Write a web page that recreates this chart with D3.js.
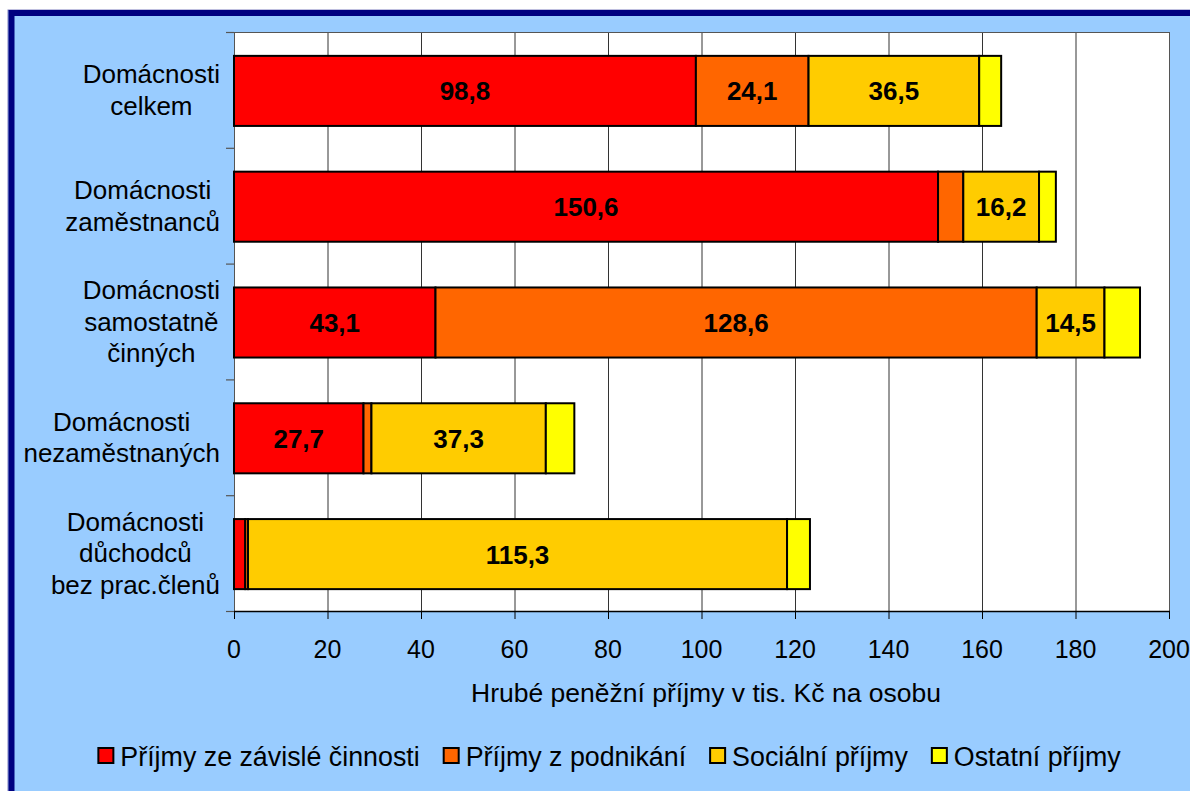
<!DOCTYPE html>
<html>
<head>
<meta charset="utf-8">
<script src="https://cdn.jsdelivr.net/npm/d3@7"></script>
<style>
html,body{margin:0;padding:0;background:#fff;}
svg{display:block;}
text{font-family:"Liberation Sans",Arial,sans-serif;}
</style>
</head>
<body>
<svg id="chart" width="1190" height="791"></svg>
<script>
// ---- data ----
const categories = [
  ["Domácnosti", "celkem"],
  ["Domácnosti", "zaměstnanců"],
  ["Domácnosti", "samostatně", "činných"],
  ["Domácnosti", "nezaměstnaných"],
  ["Domácnosti", "důchodců", "bez prac.členů"]
];
const seriesNames = ["Příjmy ze závislé činnosti", "Příjmy z podnikání", "Sociální příjmy", "Ostatní příjmy"];
const wages    = [98.8, 150.6, 43.1, 27.7, 2.4];
const business = [24.1, 5.4, 128.6, 1.7, 0.6];
const social   = [36.5, 16.2, 14.5, 37.3, 115.3];
const other    = [4.7, 3.6, 7.6, 6.1, 4.9];
const xTicks   = [0, 20, 40, 60, 80, 100, 120, 140, 160, 180, 200];
const axisTitle = "Hrubé peněžní příjmy v tis. Kč na osobu";
const colors = ["#FF0000", "#FF6600", "#FFCC00", "#FFFF00"];

// ---- build ----
const svg = d3.select("#chart");
const W = 1190, H = 791;

// frame
svg.append("rect").attr("x", 0).attr("y", 0).attr("width", W).attr("height", H).attr("fill", "#fff");
svg.append("rect").attr("x", 8).attr("y", 10).attr("width", W + 20).attr("height", H + 20)
  .attr("fill", "#99CCFF").attr("stroke", "#8080C0").attr("stroke-width", 1);
svg.append("rect").attr("x", 11.5).attr("y", 13).attr("width", W + 20).attr("height", H + 20)
  .attr("fill", "none").attr("stroke", "#000080").attr("stroke-width", 6);

const pLeft = 234, pRight = 1169, pTop = 32, pBottom = 611;
const x = d3.scaleLinear().domain([0, 200]).range([pLeft, pRight]);
const ids = categories.map((c, i) => i);
const y = d3.scaleBand().domain(ids).range([pTop, pBottom]).paddingInner(0.395).paddingOuter(0.1975);
const yOuter = d3.scaleBand().domain(ids).range([pTop, pBottom]);

// plot area
svg.append("rect").attr("x", pLeft).attr("y", pTop).attr("width", pRight - pLeft).attr("height", pBottom - pTop)
  .attr("fill", "#fff");

// gridlines
svg.append("g").selectAll("line").data(xTicks.slice(1)).join("line")
  .attr("x1", d => x(d) + 0.5).attr("x2", d => x(d) + 0.5)
  .attr("y1", pTop).attr("y2", pBottom)
  .attr("stroke", "#333").attr("stroke-width", 1);

// plot border
svg.append("rect").attr("x", pLeft + 0.5).attr("y", pTop + 0.5).attr("width", pRight - pLeft).attr("height", pBottom - pTop)
  .attr("fill", "none").attr("stroke", "#555").attr("stroke-width", 1);

// stacked bars
const rows = ids.map(i => ({ i, a: wages[i], b: business[i], c: social[i], d: other[i] }));
const stack = d3.stack().keys(["a", "b", "c", "d"]);
const layers = stack(rows);

const gBars = svg.append("g").attr("transform", "translate(0,1)");
layers.forEach((layer, k) => {
  gBars.append("g").selectAll("rect").data(layer).join("rect")
    .attr("x", d => x(d[0]))
    .attr("y", d => y(d.data.i))
    .attr("width", d => x(d[1]) - x(d[0]))
    .attr("height", y.bandwidth())
    .attr("fill", colors[k])
    .attr("stroke", "#000").attr("stroke-width", 2);
});

// value labels
layers.forEach((layer, k) => {
  gBars.append("g").selectAll("text").data(layer.filter(d => d[1] - d[0] >= 10)).join("text")
    .attr("x", d => (x(d[0]) + x(d[1])) / 2)
    .attr("y", d => y(d.data.i) + y.bandwidth() / 2 + 9.5)
    .attr("text-anchor", "middle")
    .attr("font-size", 26).attr("font-weight", "bold").attr("fill", "#000")
    .text(d => d3.format(".1f")(d[1] - d[0]).replace(".", ","));
});

// x axis
const gx = svg.append("g").attr("transform", `translate(0,${pBottom})`);
gx.append("line").attr("x1", pLeft).attr("x2", pRight + 1).attr("y1", 0.5).attr("y2", 0.5)
  .attr("stroke", "#000").attr("stroke-width", 1.3);
gx.selectAll("line.t").data(xTicks).join("line").attr("class", "t")
  .attr("x1", d => x(d) + 0.5).attr("x2", d => x(d) + 0.5).attr("y1", 0).attr("y2", 8)
  .attr("stroke", "#000");
gx.selectAll("text").data(xTicks).join("text")
  .attr("x", d => x(d)).attr("y", 47)
  .attr("text-anchor", "middle").attr("font-size", 25).attr("fill", "#000")
  .text(d => d);

svg.append("text").attr("x", 706).attr("y", 702).attr("text-anchor", "middle")
  .attr("font-size", 26.5).attr("fill", "#000").text(axisTitle);

// y ticks at category boundaries
const bounds = ids.map(i => yOuter(i)).concat([pBottom]);
svg.append("g").selectAll("line").data(bounds).join("line")
  .attr("x1", pLeft - 8).attr("x2", pLeft).attr("y1", d => d + 0.5).attr("y2", d => d + 0.5)
  .attr("stroke", "#555").attr("stroke-width", 1.2);

// category labels
const gCat = svg.append("g");
categories.forEach((lines, i) => {
  const cy = yOuter(i) + yOuter.bandwidth() / 2;
  const lh = 31.5;
  const g = gCat.append("g");
  const texts = lines.map((ln, j) => g.append("text")
    .attr("y", cy + (j - (lines.length - 1) / 2) * lh + 9.3)
    .attr("font-size", 26).attr("fill", "#000").attr("text-anchor", "middle").text(ln));
  const maxW = d3.max(texts, t => t.node().getComputedTextLength());
  texts.forEach(t => t.attr("x", 220 - maxW / 2));
});

// legend
const gLeg = svg.append("g");
let lx = 0;
seriesNames.forEach((name, k) => {
  const it = gLeg.append("g").attr("transform", `translate(${lx},0)`);
  it.append("rect").attr("x", 1).attr("y", 748).attr("width", 15).attr("height", 15)
    .attr("fill", colors[k]).attr("stroke", "#000").attr("stroke-width", 2);
  const t = it.append("text").attr("x", 23).attr("y", 766).attr("font-size", 26.8).attr("fill", "#000").text(name);
  const w = t.node().getComputedTextLength();
  lx += 23 + w + 23;
});
const totalW = lx - 23;
gLeg.attr("transform", `translate(${609 - totalW / 2},0)`);
</script>
</body>
</html>
